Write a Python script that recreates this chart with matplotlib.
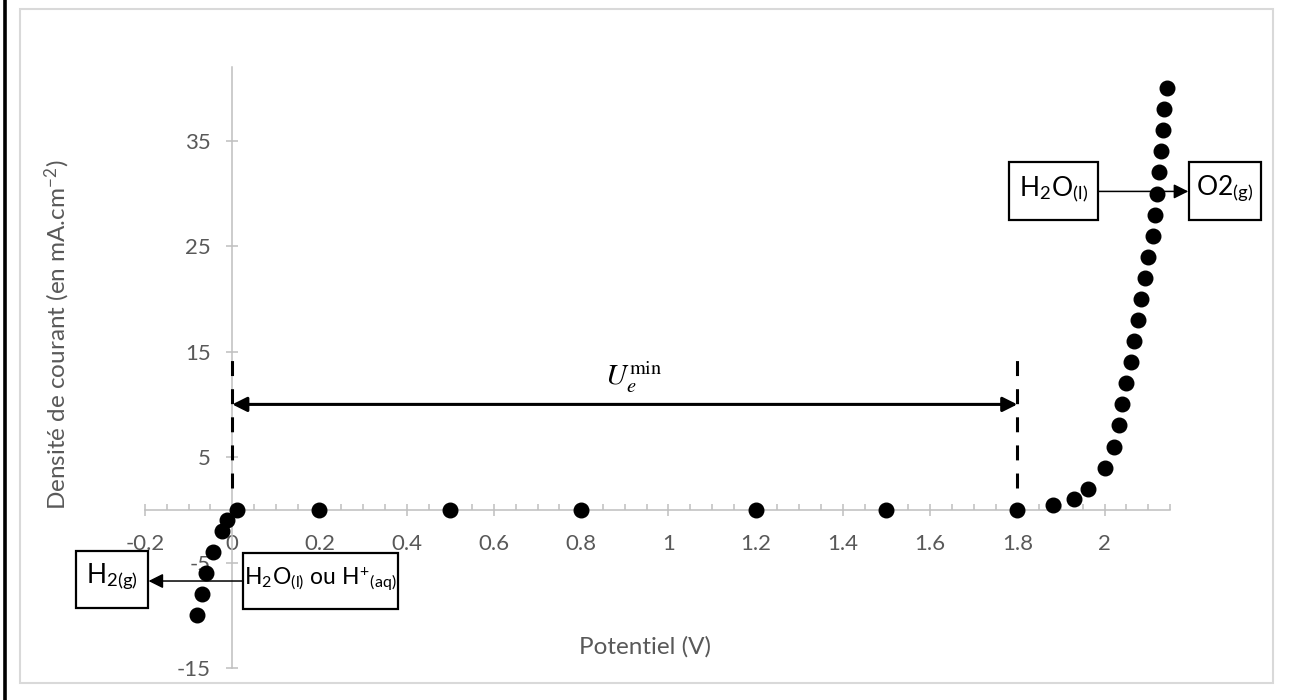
import matplotlib
matplotlib.use("Agg")
import matplotlib.pyplot as plt
from matplotlib.patches import Rectangle
from matplotlib.lines import Line2D
from matplotlib.ticker import FuncFormatter, MultipleLocator, FixedLocator

plt.rcParams['font.family'] = ['Lato', 'DejaVu Sans']
plt.rcParams['mathtext.fontset'] = 'stix'

# courbe intensité-potentiel
potentiel = [-0.08, -0.069, -0.06, -0.044, -0.023, -0.011, 0.01,
             0.2, 0.5, 0.8, 1.2, 1.5, 1.8,
             1.881, 1.931, 1.961, 2.002, 2.021, 2.034, 2.041, 2.05, 2.061,
             2.068, 2.076, 2.083, 2.092, 2.1, 2.11, 2.115, 2.12, 2.124,
             2.13, 2.135, 2.137, 2.142]
densite = [-10, -8, -6, -4, -2, -1, 0,
           0, 0, 0, 0, 0, 0,
           0.5, 1, 2, 4, 6, 8, 10, 12, 14,
           16, 18, 20, 22, 24, 26, 28, 30, 32,
           34, 36, 38, 40]

x_ticks = [-0.2, 0, 0.2, 0.4, 0.6, 0.8, 1, 1.2, 1.4, 1.6, 1.8, 2]
y_ticks = [-15, -5, 5, 15, 25, 35]

u_start, u_end = 0, 1.8      # bornes de U_e^min
u_level = 10
dash_bottom, dash_top = 2.1, 14.4

grey = '#595959'
axis_grey = '#BFBFBF'

fig = plt.figure(figsize=(12.91, 7), dpi=100)
ax = fig.add_axes([145/1291, 1-668/700, (1170-145)/1291, (668-67)/700])

ax.set_xlim(-0.2, 2.15)
ax.set_ylim(-15, 42)

for s in ['top', 'right']:
    ax.spines[s].set_visible(False)
ax.spines['left'].set_position(('data', 0))
ax.spines['bottom'].set_position(('data', 0))
for s in ['left', 'bottom']:
    ax.spines[s].set_color(axis_grey)
    ax.spines[s].set_linewidth(1.1)

ax.xaxis.set_major_locator(FixedLocator(x_ticks))
ax.xaxis.set_minor_locator(MultipleLocator(0.05))
ax.yaxis.set_major_locator(FixedLocator(y_ticks))
fmt = FuncFormatter(lambda v, p: '{:g}'.format(round(v, 2)))
ax.xaxis.set_major_formatter(fmt)
ax.yaxis.set_major_formatter(fmt)
ax.tick_params(axis='x', which='major', direction='inout', length=9, width=1.1,
               color=axis_grey, labelcolor=grey, labelsize=16, pad=13)
ax.tick_params(axis='x', which='minor', direction='in', length=4, width=1.1,
               color=axis_grey)
ax.tick_params(axis='y', which='major', direction='inout', length=9, width=1.1,
               color=axis_grey, labelcolor=grey, labelsize=16, pad=11)

# points
ax.scatter(potentiel, densite, s=110, color='black', zorder=5, clip_on=False)

# lignes pointillées et flèche double
for xv in (u_start, u_end):
    ax.plot([xv, xv], [dash_bottom, dash_top], color='black', lw=2.2,
            dashes=(4.9, 4.3), zorder=4)
ax.annotate('', xy=(u_start, u_level), xytext=(u_end, u_level),
            arrowprops=dict(arrowstyle='<|-|>', lw=2.2, color='black',
                            mutation_scale=22, shrinkA=0, shrinkB=0))
ax.text(0.92, 12.6, r'$U_e^{\mathrm{min}}$', fontsize=21,
        ha='center', va='center')

# boîtes réactions : (centre x, centre y, largeur, hauteur, taille) en unités du graphique
boxes = [(-0.275, -6.6, 0.165, 5.4, 19, r'H$_\mathregular{2(g)}$'),
         (0.203, -6.75, 0.356, 5.4, 16.5,
          r'H$_\mathregular{2}$O$_\mathregular{(l)}$ ou H$^\mathregular{+}$$_\mathregular{(aq)}$'),
         (1.883, 30.2, 0.206, 5.5, 19, r'H$_\mathregular{2}$O$_\mathregular{(l)}$'),
         (2.275, 30.2, 0.165, 5.5, 19, r'O2$_\mathregular{(g)}$')]
for cx, cy, w, h, size, label in boxes:
    ax.add_patch(Rectangle((cx - w / 2, cy - h / 2), w, h, fc='white', ec='black',
                           lw=1.6, zorder=6, clip_on=False))
    ax.text(cx, cy + 0.2, label, fontsize=size, ha='center', va='center', zorder=7,
            clip_on=False)

ax.annotate('', xy=(-0.192, -6.75), xytext=(0.025, -6.75), annotation_clip=False,
            arrowprops=dict(arrowstyle='-|>', lw=1.1, color='black',
                            mutation_scale=22, shrinkA=0, shrinkB=0), zorder=3)
ax.annotate('', xy=(2.192, 30.2), xytext=(1.986, 30.2), annotation_clip=False,
            arrowprops=dict(arrowstyle='-|>', lw=1.1, color='black',
                            mutation_scale=22, shrinkA=0, shrinkB=0), zorder=3)

# titres des axes
fig.text(645/1291, 1-647/700, 'Potentiel (V)', fontsize=17.5, color=grey,
         ha='center', va='center')
fig.text(57/1291, 1-335/700, r'Densité de courant (en mA.cm$^\mathregular{-2}$)',
         fontsize=17.5, color=grey, ha='center', va='center', rotation=90)

# cadre du graphique et bordure du document
fig.add_artist(Rectangle((20/1291, 1-683/700), (1273-20)/1291, (683-9)/700,
                         transform=fig.transFigure, fill=False, ec='#D9D9D9', lw=1.5))
fig.add_artist(Line2D([4.5/1291, 4.5/1291], [0, 1], transform=fig.transFigure,
                      color='black', lw=2.6))

fig.savefig('out.png', dpi=100)
